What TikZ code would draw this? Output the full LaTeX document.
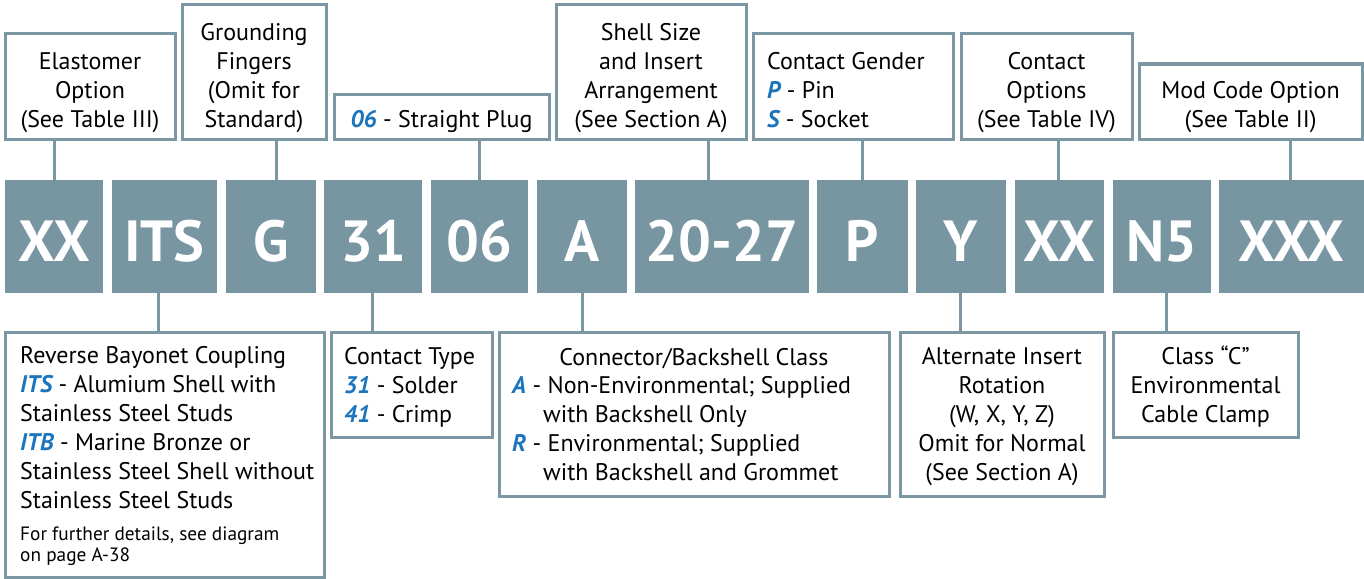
\documentclass[tikz,border=0pt]{standalone}
\usepackage{fontspec}
\setmainfont{PT Sans}
\definecolor{codefill}{HTML}{7895A2}
\definecolor{boxline}{HTML}{7C97A4}
\definecolor{hlblue}{HTML}{1C75BC}
\newcommand\hl[1]{{\color{hlblue}\bfseries\itshape #1}}
\newcommand\descfont{\fontsize{24}{29}\selectfont}
\newcommand\smallfont{\fontsize{19.3}{21}\selectfont}
\newcommand\codefont{\fontsize{58}{58}\selectfont\bfseries}
\tikzset{
  desc/.style={draw=boxline, line width=3pt, inner sep=0pt, fill=white},
  code/.style={fill=codefill, inner sep=0pt, text=white, font=\codefont, text height=49pt, text depth=0pt},
  lbl/.style={inner sep=0pt, align=center, font=\descfont, anchor=base},
  lbll/.style={inner sep=0pt, align=left, font=\descfont, anchor=base west},
  link/.style={draw=boxline, line width=3pt}
}
\begin{document}
\begin{tikzpicture}[x=1pt,y=-1pt]
\useasboundingbox (0,0) rectangle (1364,578);
% code boxes (y 180..293)
\node[code, minimum width=98pt,  minimum height=113pt] (xx1) at (54,236.5) {XX};
\node[code, minimum width=105pt, minimum height=113pt] (its) at (164.5,236.5) {ITS};
\node[code, minimum width=90pt,  minimum height=113pt] (g)   at (271,236.5) {G};
\node[code, minimum width=98pt,  minimum height=113pt] (n31) at (373,236.5) {31};
\node[code, minimum width=97pt,  minimum height=113pt] (n06) at (479.5,236.5) {06};
\node[code, minimum width=90pt,  minimum height=113pt] (a)   at (582,236.5) {A};
\node[code, minimum width=174pt, minimum height=113pt] (sz)  at (722,236.5) {20-27};
\node[code, minimum width=91pt,  minimum height=113pt] (p)   at (862.5,236.5) {P};
\node[code, minimum width=90pt,  minimum height=113pt] (y)   at (961,236.5) {Y};
\node[code, minimum width=89pt,  minimum height=113pt] (xx2) at (1059.5,236.5) {XX};
\node[code, minimum width=98pt,  minimum height=113pt] (n5)  at (1162,236.5) {N5};
\node[code, minimum width=145pt, minimum height=113pt] (xxx) at (1291.5,236.5) {XXX};
% top boxes
\node[desc, minimum width=170pt, minimum height=105pt] (elast)  at (90,86.5) {};
\node[desc, minimum width=144pt, minimum height=134pt] (ground) at (254,72) {};
\node[desc, minimum width=215pt, minimum height=45pt]  (plug)   at (441.5,116.5) {};
\node[desc, minimum width=190pt, minimum height=134pt] (shell)  at (651,72) {};
\node[desc, minimum width=200pt, minimum height=105pt] (gender) at (853,86.5) {};
\node[desc, minimum width=171pt, minimum height=105pt] (copt)   at (1046.5,86.5) {};
\node[desc, minimum width=223pt, minimum height=75pt]  (mod)    at (1250.5,101.5) {};
% (multi-line labels are anchored at the baseline of their last line)
\node[lbl] (elast-t)  at (90,127)     {Elastomer\\Option\\(See Table III)};
\node[lbl] (ground-t) at (254,127)    {Grounding\\Fingers\\(Omit for\\Standard)};
\node[lbl] (plug-t)   at (441.5,127)  {\hl{06} - Straight Plug};
\node[lbl] (shell-t)  at (651,127)    {Shell Size\\and Insert\\Arrangement\\(See Section A)};
\node[lbll] (gender-t) at (767,127)   {Contact Gender\\\hl{P} - Pin\\\hl{S} - Socket};
\node[lbl] (copt-t)   at (1046.5,127) {Contact\\Options\\(See Table IV)};
\node[lbl] (mod-t)    at (1250.5,127) {Mod Code Option\\(See Table II)};
% bottom boxes
\node[desc, minimum width=319pt, minimum height=245pt] (rev)   at (164.5,454.5) {};
\node[desc, minimum width=161pt, minimum height=105pt] (ctype) at (411.5,384.5) {};
\node[desc, minimum width=390pt, minimum height=164pt] (cls)   at (694,414) {};
\node[desc, minimum width=204pt, minimum height=164pt] (alt)   at (1002,414) {};
\node[desc, minimum width=185pt, minimum height=105pt] (clsc)  at (1205.5,384.5) {};
\node[lbll] (rev-t) at (20,508) {Reverse Bayonet Coupling\\\hl{ITS} - Alumium Shell with\\Stainless Steel Studs\\\hl{ITB} - Marine Bronze or\\Stainless Steel Shell without\\Stainless Steel Studs};
\node[lbll, font=\smallfont] (rev-n) at (20,561) {For further details, see diagram\\on page A-38};
\node[lbll] (ctype-t) at (344,422) {Contact Type\\\hl{31} - Solder\\\hl{41} - Crimp};
\node[lbl] (cls-t) at (694,365) {Connector/Backshell Class};
\node[lbll] (cls-b) at (512,480) {\hl{A} - Non-Environmental; Supplied\\\hspace*{31pt}with Backshell Only\\\hl{R} - Environmental; Supplied\\\hspace*{31pt}with Backshell and Grommet};
\node[lbl] (alt-t) at (1002,480) {Alternate Insert\\Rotation\\(W, X, Y, Z)\\Omit for Normal\\(See Section A)};
\node[lbl] (clsc-t) at (1205.5,422) {Class ``C''\\Environmental\\Cable Clamp};
% connectors, top
\draw[link] (xx1.north) -- (xx1.north |- elast.south);
\draw[link] ([xshift=5pt]g.north) -- ([xshift=5pt]g.north |- ground.south);
\draw[link] (n06.north) -- (n06.north |- plug.south);
\draw[link] ([xshift=-14pt]sz.north) -- ([xshift=-14pt]sz.north |- shell.south);
\draw[link] (p.north) -- (p.north |- gender.south);
\draw[link] ([xshift=-1.5pt]xx2.north) -- ([xshift=-1.5pt]xx2.north |- copt.south);
\draw[link] ([xshift=-1pt]xxx.north) -- ([xshift=-1pt]xxx.north |- mod.south);
% connectors, bottom
\draw[link] ([xshift=-6.5pt]its.south) -- ([xshift=-6.5pt]its.south |- rev.north);
\draw[link] ([xshift=-1pt]n31.south) -- ([xshift=-1pt]n31.south |- ctype.north);
\draw[link] (a.south) -- (a.south |- cls.north);
\draw[link] ([xshift=-1pt]y.south) -- ([xshift=-1pt]y.south |- alt.north);
\draw[link] ([xshift=4pt]n5.south) -- ([xshift=4pt]n5.south |- clsc.north);
\end{tikzpicture}
\end{document}
